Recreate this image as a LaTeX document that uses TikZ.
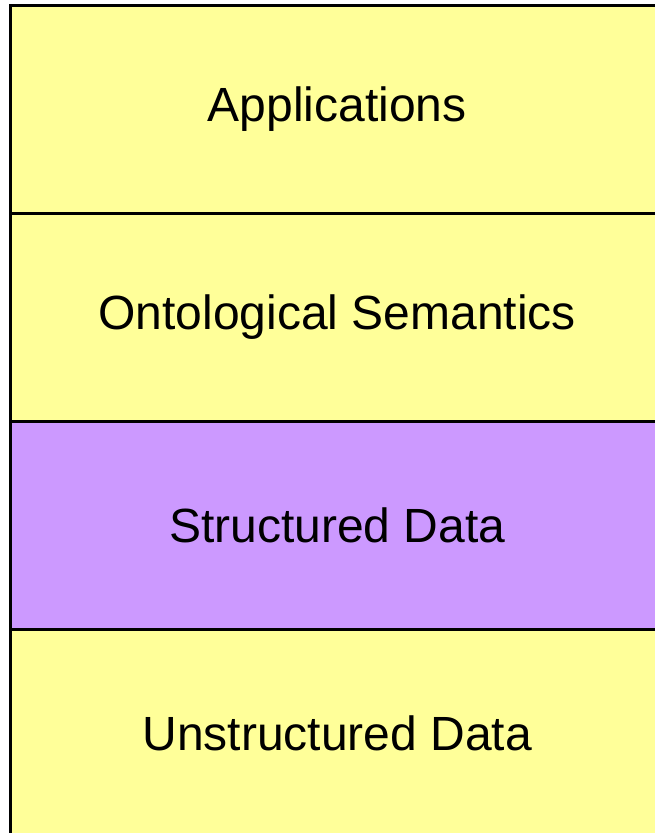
\documentclass[tikz,border=0pt]{standalone}
\usepackage{fontspec}
\setmainfont{Liberation Sans}
\definecolor{layeryellow}{HTML}{FFFF99}
\definecolor{layerpurple}{HTML}{CC99FF}
\begin{document}
\begin{tikzpicture}[x=1pt,y=-1pt,
  layer/.style={draw=black, line width=2.5pt, minimum width=654pt, minimum height=208pt,
    inner sep=0pt, anchor=north west, font=\fontsize{48}{54}\selectfont},
  ]
\useasboundingbox (0,0) rectangle (655,833);
\begin{scope}
\clip (0,0) rectangle (655,833);
\node[layer, fill=layeryellow] (app) at (9,4) {Applications};
\node[layer, fill=layeryellow] (onto) at (9,212) {Ontological Semantics};
\node[layer, fill=layerpurple] (struct) at (9,420) {Structured Data};
\node[layer, fill=layeryellow] (unstruct) at (9,628) {Unstructured Data};
\end{scope}
\end{tikzpicture}
\end{document}
